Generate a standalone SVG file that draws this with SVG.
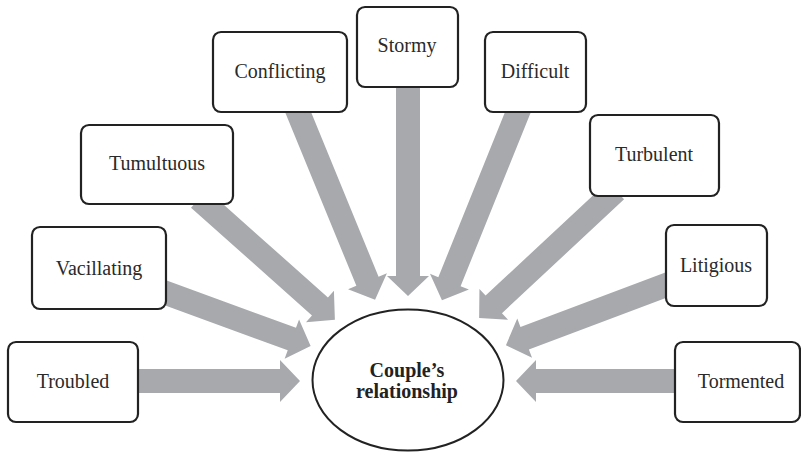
<svg xmlns="http://www.w3.org/2000/svg" width="801" height="452" viewBox="0 0 801 452">
<style>
.box{fill:#fff;stroke:#222;stroke-width:2.2}
.arr{fill:#a7a9ac}
</style>
<rect width="801" height="452" fill="#fff"/>
<g id="connectors">
<polygon class="arr" points="0,-12 150,-12 150,-21 170,0 150,21 150,12 0,12" transform="translate(130,381)"/>
<polygon class="arr" points="0,-12 149,-12 149,-21 169,0 149,21 149,12 0,12" transform="translate(685,381) rotate(180)"/>
<polygon class="arr" points="0,-12 196,-12 196,-21 216,0 196,21 196,12 0,12" transform="translate(408,80) rotate(90)"/>
<polygon class="arr" points="0,-12 191,-12 191,-21 211,0 191,21 191,12 0,12" transform="translate(295,104.6) rotate(67.7)"/>
<polygon class="arr" points="0,-12 191,-12 191,-21 211,0 191,21 191,12 0,12" transform="translate(521,104.6) rotate(112)"/>
<polygon class="arr" points="0,-12 162,-12 162,-21 182,0 162,21 162,12 0,12" transform="translate(199,198.7) rotate(41.7)"/>
<polygon class="arr" points="0,-12 142,-12 142,-21 162,0 142,21 142,12 0,12" transform="translate(158.5,290.3) rotate(20.1)"/>
<polygon class="arr" points="0,-12 167,-12 167,-21 187,0 167,21 167,12 0,12" transform="translate(615.9,190.5) rotate(137)"/>
<polygon class="arr" points="0,-12 159,-12 159,-21 179,0 159,21 159,12 0,12" transform="translate(673.5,282.2) rotate(159.4)"/>
</g>
<g id="center">
<ellipse cx="408" cy="380" rx="95.5" ry="70.5" fill="#fff" stroke="#222" stroke-width="2"/>
<text x="407" y="377" text-anchor="middle" fill="#222" font-size="20" style="font-family:'Liberation Serif';font-weight:bold">Couple’s</text>
<text x="407" y="398" text-anchor="middle" fill="#222" font-size="20" style="font-family:'Liberation Serif';font-weight:bold">relationship</text>
</g>
<g id="troubled"><rect class="box" x="8" y="342" width="130" height="80" rx="8"/><text x="73" y="388" text-anchor="middle" fill="#2a2a2a" font-size="20" style="font-family:'Liberation Serif'">Troubled</text></g>
<g id="vacillating"><rect class="box" x="32" y="227" width="134" height="82" rx="8"/><text x="99" y="275" text-anchor="middle" fill="#2a2a2a" font-size="20" style="font-family:'Liberation Serif'">Vacillating</text></g>
<g id="tumultuous"><rect class="box" x="81" y="125" width="152" height="79" rx="8"/><text x="157" y="170" text-anchor="middle" fill="#2a2a2a" font-size="20" style="font-family:'Liberation Serif'">Tumultuous</text></g>
<g id="conflicting"><rect class="box" x="213" y="32" width="134" height="80" rx="8"/><text x="280" y="78" text-anchor="middle" fill="#2a2a2a" font-size="20" style="font-family:'Liberation Serif'">Conflicting</text></g>
<g id="stormy"><rect class="box" x="357" y="7" width="101" height="80" rx="8"/><text x="407" y="52" text-anchor="middle" fill="#2a2a2a" font-size="20" style="font-family:'Liberation Serif'">Stormy</text></g>
<g id="difficult"><rect class="box" x="485" y="32" width="101" height="80" rx="8"/><text x="535" y="78" text-anchor="middle" fill="#2a2a2a" font-size="20" style="font-family:'Liberation Serif'">Difficult</text></g>
<g id="turbulent"><rect class="box" x="590" y="115" width="129" height="81" rx="8"/><text x="654" y="161" text-anchor="middle" fill="#2a2a2a" font-size="20" style="font-family:'Liberation Serif'">Turbulent</text></g>
<g id="litigious"><rect class="box" x="666" y="225" width="101" height="81" rx="8"/><text x="716" y="272" text-anchor="middle" fill="#2a2a2a" font-size="20" style="font-family:'Liberation Serif'">Litigious</text></g>
<g id="tormented"><rect class="box" x="675" y="342" width="125" height="80" rx="8"/><text x="741" y="388" text-anchor="middle" fill="#2a2a2a" font-size="20" style="font-family:'Liberation Serif'">Tormented</text></g>
</svg>
